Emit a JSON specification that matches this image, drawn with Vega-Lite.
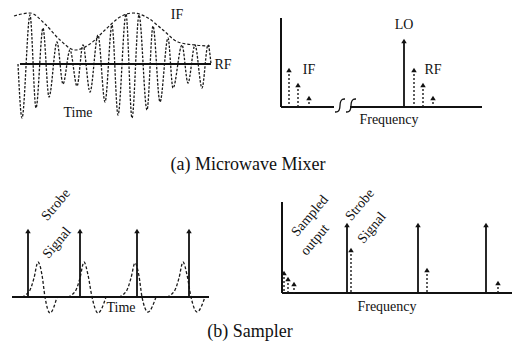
{
"$schema": "https://vega.github.io/schema/vega-lite/v6.json",
"width": 521, "height": 353,
"autosize": {"type": "fit", "contains": "padding"},
"padding": 0,
"background": "white",
"config": {"view": {"stroke": null}},
"datasets": {
"wave": [
{"x":18,"y":64},{"x":22,"y":118},{"x":30,"y":15},{"x":36,"y":108},{"x":43,"y":28},{"x":49,"y":97},{"x":57,"y":42},{"x":63,"y":84},{"x":70,"y":50},{"x":77,"y":86},{"x":83,"y":45},{"x":90,"y":92},{"x":98,"y":35},{"x":105,"y":102},{"x":112,"y":25},{"x":118,"y":115},{"x":126,"y":14},{"x":132,"y":118},{"x":139,"y":15},{"x":147,"y":110},{"x":153,"y":26},{"x":160,"y":102},{"x":168,"y":38},{"x":173,"y":88},{"x":182,"y":45},{"x":188,"y":83},{"x":195,"y":45},{"x":202,"y":88},{"x":208,"y":45},{"x":211,"y":64}
],
"env": [
{"x":14,"y":16},{"x":30,"y":13},{"x":45,"y":24},{"x":60,"y":40},{"x":75,"y":50},{"x":90,"y":44},{"x":105,"y":30},{"x":120,"y":17},{"x":133,"y":13},{"x":148,"y":18},{"x":163,"y":30},{"x":178,"y":42},{"x":195,"y":45},{"x":210,"y":46}
],
"pulses": [
{"p":1,"x":22,"y":297},{"p":1,"x":30,"y":290},{"p":1,"x":34,"y":278},{"p":1,"x":38,"y":262},{"p":1,"x":42,"y":275},{"p":1,"x":45,"y":297},{"p":1,"x":50,"y":313},{"p":1,"x":57,"y":297},
{"p":2,"x":68,"y":297},{"p":2,"x":76,"y":290},{"p":2,"x":80,"y":278},{"p":2,"x":84,"y":262},{"p":2,"x":88,"y":275},{"p":2,"x":92,"y":297},{"p":2,"x":98,"y":313},{"p":2,"x":106,"y":297},
{"p":3,"x":119,"y":297},{"p":3,"x":127,"y":290},{"p":3,"x":131,"y":278},{"p":3,"x":135,"y":263},{"p":3,"x":139,"y":276},{"p":3,"x":142,"y":297},{"p":3,"x":148,"y":312},{"p":3,"x":156,"y":297},
{"p":4,"x":167,"y":297},{"p":4,"x":175,"y":290},{"p":4,"x":179,"y":278},{"p":4,"x":183,"y":262},{"p":4,"x":187,"y":275},{"p":4,"x":191,"y":297},{"p":4,"x":197,"y":312},{"p":4,"x":205,"y":297}
],
"brk": [
{"c":1,"i":1,"x":345,"y":99},{"c":1,"i":2,"x":342,"y":99},{"c":1,"i":3,"x":340,"y":102},{"c":1,"i":4,"x":340,"y":109},{"c":1,"i":5,"x":338,"y":112},{"c":1,"i":6,"x":335,"y":112},
{"c":2,"i":1,"x":356,"y":99},{"c":2,"i":2,"x":353,"y":99},{"c":2,"i":3,"x":351,"y":102},{"c":2,"i":4,"x":351,"y":109},{"c":2,"i":5,"x":349,"y":112},{"c":2,"i":6,"x":346,"y":112}
],
"lines": [
{"x":20,"y":64,"x2":211,"y2":64},
{"x":281,"y":18,"x2":281,"y2":107},
{"x":281,"y":107,"x2":334,"y2":107},
{"x":350,"y":107,"x2":482,"y2":107},
{"x":12,"y":297,"x2":209,"y2":297},
{"x":282,"y":202,"x2":282,"y2":293},
{"x":282,"y":293,"x2":512,"y2":293}
],
"arrows": [
{"x":404,"top":41,"base":107,"style":"solid"},
{"x":289,"top":70,"base":107,"style":"dashed"},
{"x":298,"top":85,"base":107,"style":"dashed"},
{"x":309,"top":98,"base":107,"style":"dashed"},
{"x":414,"top":70,"base":107,"style":"dashed"},
{"x":423,"top":85,"base":107,"style":"dashed"},
{"x":433,"top":98,"base":107,"style":"dashed"},
{"x":28,"top":231,"base":297,"style":"solid"},
{"x":80,"top":231,"base":297,"style":"solid"},
{"x":137,"top":231,"base":297,"style":"solid"},
{"x":189,"top":231,"base":297,"style":"solid"},
{"x":347,"top":225,"base":293,"style":"solid"},
{"x":418,"top":225,"base":293,"style":"solid"},
{"x":486,"top":225,"base":293,"style":"solid"},
{"x":351,"top":250,"base":293,"style":"dashed"},
{"x":427,"top":270,"base":293,"style":"dashed"},
{"x":498,"top":283,"base":293,"style":"dashed"},
{"x":284,"top":273,"base":293,"style":"dashed"},
{"x":288,"top":279,"base":293,"style":"dashed"},
{"x":294,"top":284,"base":293,"style":"dashed"}
],
"labels": [
{"x":177,"y":15,"t":"IF"},
{"x":223,"y":65,"t":"RF"},
{"x":78,"y":113,"t":"Time"},
{"x":404,"y":25,"t":"LO"},
{"x":309,"y":70,"t":"IF"},
{"x":433,"y":70,"t":"RF"},
{"x":389,"y":120,"t":"Frequency"},
{"x":121,"y":308,"t":"Time"},
{"x":387,"y":307,"t":"Frequency"}
],
"rlabels": [
{"x":56,"y":205,"t":"Strobe"},
{"x":57,"y":243,"t":"Signal"},
{"x":310,"y":216,"t":"Sampled"},
{"x":315,"y":240,"t":"output"},
{"x":360,"y":205,"t":"Strobe"},
{"x":372,"y":228,"t":"Signal"}
],
"caps": [
{"x":248,"y":165,"t":"(a) Microwave Mixer"},
{"x":250,"y":332,"t":"(b) Sampler"}
]
},
"encoding": {
"x": {"field": "x", "type": "quantitative", "scale": {"domain": [0, 521], "nice": false, "zero": false}, "axis": null},
"y": {"field": "y", "type": "quantitative", "scale": {"domain": [0, 353], "nice": false, "zero": false, "reverse": true}, "axis": null}
},
"layer": [
{"data": {"name": "wave"}, "mark": {"type": "line", "interpolate": "monotone", "strokeDash": [2.5, 1.5], "strokeWidth": 1.3, "color": "#1a1a1a"}},
{"data": {"name": "env"}, "mark": {"type": "line", "interpolate": "monotone", "strokeDash": [3, 2], "strokeWidth": 1.2, "color": "#1a1a1a"}},
{"data": {"name": "pulses"}, "mark": {"type": "line", "interpolate": "monotone", "strokeDash": [3, 2], "strokeWidth": 1.3, "color": "#1a1a1a"}, "encoding": {"detail": {"field": "p", "type": "nominal"}}},
{"data": {"name": "brk"}, "mark": {"type": "line", "interpolate": "basis", "strokeWidth": 1.3, "color": "#111"}, "encoding": {"detail": {"field": "c", "type": "nominal"}, "order": {"field": "i", "type": "quantitative"}}},
{"data": {"name": "lines"}, "mark": {"type": "rule", "strokeWidth": 2, "color": "#111"}, "encoding": {"x2": {"field": "x2"}, "y2": {"field": "y2"}}},
{"data": {"name": "arrows"}, "transform": [{"filter": "datum.style == 'solid'"}], "mark": {"type": "rule", "strokeWidth": 1.8, "color": "#111"}, "encoding": {"y": {"field": "top", "type": "quantitative"}, "y2": {"field": "base"}}},
{"data": {"name": "arrows"}, "transform": [{"filter": "datum.style == 'dashed'"}], "mark": {"type": "rule", "strokeWidth": 1.4, "strokeDash": [2, 2], "color": "#1a1a1a"}, "encoding": {"y": {"field": "top", "type": "quantitative"}, "y2": {"field": "base"}}},
{"data": {"name": "arrows"}, "mark": {"type": "point", "shape": "triangle-up", "filled": true, "size": 30, "color": "#111", "opacity": 1}, "encoding": {"y": {"field": "top", "type": "quantitative"}}},
{"data": {"name": "labels"}, "mark": {"type": "text", "font": "Liberation Serif", "fontSize": 14, "color": "#111", "align": "center", "baseline": "middle"}, "encoding": {"text": {"field": "t"}}},
{"data": {"name": "rlabels"}, "mark": {"type": "text", "font": "Liberation Serif", "fontSize": 14, "color": "#111", "angle": -50, "align": "center", "baseline": "middle"}, "encoding": {"text": {"field": "t"}}},
{"data": {"name": "caps"}, "mark": {"type": "text", "font": "Liberation Serif", "fontSize": 18, "color": "#111", "align": "center", "baseline": "middle"}, "encoding": {"text": {"field": "t"}}}
]
}
